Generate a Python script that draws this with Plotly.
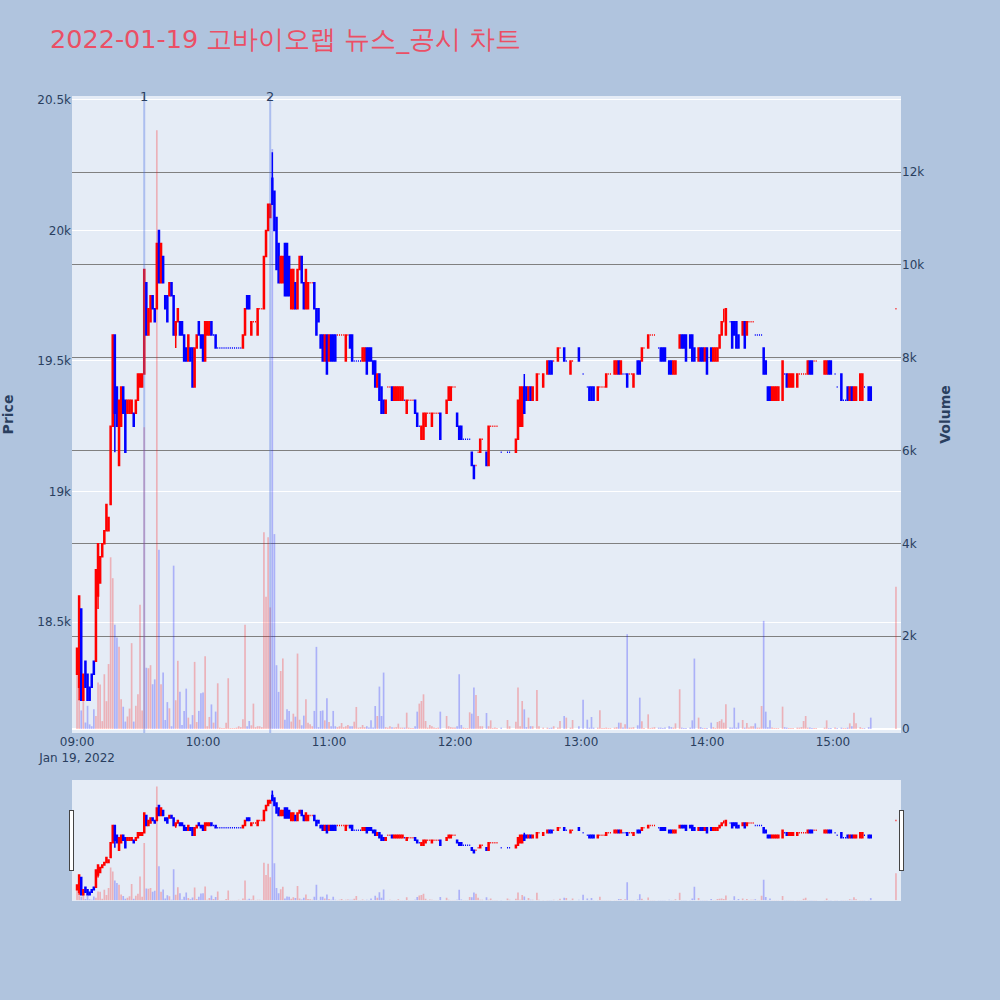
import pandas as pd
import plotly.graph_objects as go

N = None

# ---- minute candles 09:00 .. 15:30 (None = no trade) ----
open_ = [
    18300, 18250, 18550, 18200, 18350, 18300, 18250, 18300, 18350, 18350,
    18600, 18650, 18750, 18800, 18850, 18850, 18950, 19250, 19600, 19400,
    19100, 19250, 19400, 19350, 19300, 19300, 19300, 19300, 19300, 19350,
    19400, 19400, 19450, 19800, 19600, 19650, 19750, 19700, 19700, 20000,
    19800, 19900, 19750, 19750, 19750, 19800, 19750, 19600, 19650, 19650,
    19650, 19600, 19550, 19500, 19550, 19550, 19400, 19550, 19650, 19600,
    19600, 19500, 19600, 19600, 19650, 19600, 19600, 19550, 19550, 19550,
    19550, 19550, 19550, 19550, 19550, 19550, 19550, 19550, 19550, 19550,
    19600, 19750, 19750, 19600, 19650, 19650, 19600, 19700, 19700, 19700,
    19900, 20000, 20050, 20200, 20150, 20050, 19950, 19800, 19800, 19950,
    19950, 19900, 19700, 19700, 19800, 19700, 19850, 19900, 19800, 19700,
    19700, 19800, 19800, 19800, 19700, 19700, 19600, 19600, 19500, 19600,
    19500, 19600, 19600, 19600, 19600, 19600, 19600, 19600, 19500, 19600,
    19600, 19600, 19500, 19500, 19500, 19500, 19500, 19500, 19550, 19550,
    19550, 19500, 19500, 19400, 19450, 19400, 19350, 19300, 19400, 19400,
    19400, 19350, 19350, 19350, 19350, 19350, 19350, 19300, 19350, 19350,
    19350, 19350, 19300, 19250, 19200, 19200, 19250, 19300, 19300, 19250,
    19300, 19300, 19300, 19300, N, N, 19300, 19350, 19350, 19400,
    19400, 19300, 19250, 19250, 19200, 19200, 19200, 19200, 19150, 19100,
    19100, 19150, 19150, 19200, N, 19150, 19100, 19250, 19250, 19250,
    19250, N, 19150, N, N, 19150, 19150, N, N, 19150,
    19200, 19250, 19250, 19400, 19400, 19350, 19400, 19350, N, 19350,
    19450, N, 19400, N, 19450, 19500, 19500, 19500, N, 19500,
    19550, N, 19550, 19500, N, 19450, 19500, N, N, 19550,
    N, 19450, N, 19400, 19400, 19400, 19400, N, 19350, 19400,
    19400, 19400, 19400, 19450, 19450, N, 19450, 19450, 19500, 19450,
    19450, 19450, 19450, 19450, 19450, 19400, N, 19500, 19500, 19500,
    19550, N, 19550, 19600, 19600, 19600, N, 19550, 19550, 19550,
    19550, N, 19500, 19500, 19450, 19450, N, 19550, 19600, 19600,
    19600, N, 19600, 19600, 19550, N, 19500, 19550, 19550, 19500,
    19550, N, 19550, 19500, 19500, 19500, 19550, 19600, 19650, 19600,
    N, 19650, 19650, 19650, 19650, 19600, N, 19600, 19650, 19600,
    19650, 19650, 19650, 19600, 19600, 19600, 19600, 19550, 19500, 19400,
    19400, 19350, 19350, 19350, 19350, N, 19350, 19450, 19450, 19400,
    19400, 19400, N, 19400, 19450, 19450, 19450, 19450, 19450, 19500,
    19500, 19500, 19500, N, N, N, 19450, 19450, 19500, 19500,
    N, 19450, 19400, N, 19450, 19350, 19350, 19400, 19350, 19400,
    19350, 19350, N, 19350, 19350, 19400, N, 19400, 19400, N,
    N, N, N, N, N, N, N, N, N, N,
    19700,
]

high = [
    18400, 18600, 18550, 18300, 18350, 18300, 18250, 18300, 18350, 18700,
    18800, 18750, 18800, 18850, 18950, 18900, 19250, 19600, 19600, 19400,
    19350, 19400, 19400, 19350, 19350, 19350, 19350, 19300, 19350, 19450,
    19450, 19450, 19850, 19800, 19700, 19750, 19750, 19700, 19950, 20000,
    19950, 19900, 19750, 19750, 19800, 19800, 19750, 19650, 19700, 19650,
    19650, 19600, 19550, 19600, 19550, 19550, 19550, 19600, 19650, 19600,
    19600, 19650, 19650, 19650, 19650, 19600, 19600, 19550, 19550, 19550,
    19550, 19550, 19550, 19550, 19550, 19550, 19550, 19550, 19550, 19600,
    19700, 19750, 19750, 19650, 19650, 19650, 19700, 19700, 19700, 19900,
    20000, 20100, 20100, 20300, 20150, 20050, 19950, 19900, 19900, 19950,
    19950, 19900, 19850, 19850, 19800, 19850, 19900, 19900, 19800, 19850,
    19800, 19800, 19800, 19800, 19700, 19700, 19600, 19600, 19600, 19600,
    19600, 19600, 19600, 19600, 19600, 19600, 19600, 19600, 19600, 19600,
    19600, 19600, 19500, 19500, 19500, 19500, 19550, 19550, 19550, 19550,
    19550, 19500, 19500, 19450, 19450, 19400, 19350, 19350, 19400, 19400,
    19400, 19400, 19400, 19400, 19400, 19400, 19350, 19350, 19350, 19350,
    19350, 19350, 19300, 19250, 19250, 19300, 19300, 19300, 19300, 19300,
    19300, 19300, 19300, 19300, N, N, 19350, 19400, 19400, 19400,
    19400, 19300, 19250, 19250, 19200, 19200, 19200, 19200, 19150, 19100,
    19100, 19150, 19200, 19200, N, 19150, 19250, 19250, 19250, 19250,
    19250, N, 19150, N, N, 19150, 19150, N, N, 19200,
    19350, 19400, 19400, 19450, 19400, 19400, 19400, 19400, N, 19450,
    19450, N, 19450, N, 19500, 19500, 19500, 19500, N, 19550,
    19550, N, 19550, 19500, N, 19500, 19500, N, N, 19550,
    N, 19450, N, 19400, 19400, 19400, 19400, N, 19400, 19400,
    19400, 19400, 19450, 19450, 19450, N, 19500, 19500, 19500, 19500,
    19450, 19450, 19450, 19450, 19450, 19450, N, 19500, 19500, 19550,
    19550, N, 19600, 19600, 19600, 19600, N, 19550, 19550, 19550,
    19550, N, 19500, 19500, 19500, 19500, N, 19600, 19600, 19600,
    19600, N, 19600, 19600, 19550, N, 19550, 19550, 19550, 19550,
    19550, N, 19550, 19550, 19550, 19550, 19600, 19650, 19700, 19700,
    N, 19650, 19650, 19650, 19650, 19600, N, 19650, 19650, 19650,
    19650, 19650, 19650, 19600, 19600, 19600, 19600, 19550, 19500, 19400,
    19400, 19400, 19400, 19400, 19400, N, 19500, 19450, 19450, 19450,
    19450, 19450, N, 19450, 19450, 19450, 19450, 19450, 19500, 19500,
    19500, 19500, 19500, N, N, N, 19500, 19500, 19500, 19500,
    N, 19450, 19400, N, 19450, 19350, 19350, 19400, 19400, 19400,
    19400, 19400, N, 19450, 19450, 19400, N, 19400, 19400, N,
    N, N, N, N, N, N, N, N, N, N,
    19700,
]

low = [
    18300, 18200, 18200, 18200, 18250, 18200, 18200, 18250, 18300, 18350,
    18550, 18650, 18750, 18800, 18850, 18850, 18950, 19250, 19150, 19250,
    19100, 19250, 19300, 19150, 19300, 19300, 19300, 19250, 19300, 19350,
    19400, 19400, 19450, 19600, 19600, 19650, 19700, 19650, 19700, 19800,
    19800, 19800, 19700, 19650, 19750, 19750, 19600, 19550, 19650, 19600,
    19600, 19500, 19500, 19500, 19500, 19400, 19400, 19550, 19600, 19550,
    19500, 19500, 19600, 19600, 19600, 19600, 19550, 19550, 19550, 19550,
    19550, 19550, 19550, 19550, 19550, 19550, 19550, 19550, 19550, 19550,
    19600, 19700, 19700, 19600, 19650, 19650, 19600, 19700, 19700, 19700,
    19900, 20000, 20050, 20100, 20000, 19850, 19800, 19800, 19800, 19750,
    19750, 19750, 19700, 19700, 19700, 19700, 19850, 19800, 19700, 19700,
    19700, 19800, 19800, 19700, 19600, 19650, 19550, 19500, 19500, 19450,
    19500, 19500, 19500, 19500, 19600, 19600, 19600, 19600, 19500, 19600,
    19550, 19500, 19500, 19500, 19500, 19500, 19500, 19500, 19450, 19500,
    19500, 19450, 19400, 19400, 19350, 19300, 19300, 19300, 19400, 19400,
    19350, 19350, 19350, 19350, 19350, 19350, 19350, 19300, 19350, 19350,
    19350, 19300, 19250, 19250, 19200, 19200, 19250, 19300, 19300, 19250,
    19300, 19300, 19300, 19200, N, N, 19300, 19350, 19350, 19400,
    19400, 19250, 19200, 19200, 19200, 19200, 19200, 19200, 19100, 19050,
    19100, 19150, 19150, 19200, N, 19100, 19100, 19250, 19250, 19250,
    19250, N, 19150, N, N, 19150, 19150, N, N, 19150,
    19200, 19250, 19250, 19300, 19350, 19350, 19350, 19350, N, 19350,
    19450, N, 19400, N, 19450, 19450, 19450, 19500, N, 19500,
    19550, N, 19500, 19500, N, 19450, 19500, N, N, 19500,
    N, 19450, N, 19400, 19350, 19350, 19350, N, 19350, 19400,
    19400, 19400, 19400, 19450, 19450, N, 19450, 19450, 19450, 19450,
    19450, 19450, 19400, 19450, 19450, 19400, N, 19450, 19450, 19500,
    19550, N, 19550, 19600, 19600, 19600, N, 19550, 19500, 19500,
    19500, N, 19450, 19450, 19450, 19450, N, 19550, 19550, 19550,
    19500, N, 19550, 19500, 19500, N, 19500, 19500, 19500, 19500,
    19450, N, 19500, 19500, 19500, 19500, 19550, 19600, 19650, 19600,
    N, 19650, 19550, 19600, 19550, 19550, N, 19600, 19550, 19600,
    19650, 19650, 19650, 19600, 19600, 19600, 19600, 19450, 19450, 19350,
    19350, 19350, 19350, 19350, 19350, N, 19350, 19450, 19400, 19400,
    19400, 19400, N, 19400, 19450, 19450, 19450, 19450, 19450, 19450,
    19450, 19500, 19500, N, N, N, 19450, 19450, 19450, 19450,
    N, 19450, 19400, N, 19350, 19350, 19350, 19350, 19350, 19350,
    19350, 19350, N, 19350, 19350, 19400, N, 19350, 19350, N,
    N, N, N, N, N, N, N, N, N, N,
    19700,
]

close = [
    18400, 18600, 18200, 18300, 18250, 18200, 18200, 18250, 18300, 18700,
    18800, 18750, 18800, 18850, 18950, 18900, 19250, 19600, 19300, 19250,
    19350, 19400, 19300, 19150, 19350, 19350, 19350, 19250, 19350, 19450,
    19450, 19450, 19850, 19600, 19700, 19750, 19700, 19650, 19950, 19800,
    19950, 19800, 19700, 19650, 19800, 19750, 19600, 19650, 19700, 19600,
    19600, 19500, 19500, 19600, 19500, 19400, 19550, 19600, 19600, 19550,
    19500, 19650, 19650, 19650, 19600, 19600, 19550, 19550, 19550, 19550,
    19550, 19550, 19550, 19550, 19550, 19550, 19550, 19550, 19550, 19600,
    19700, 19700, 19700, 19650, 19650, 19650, 19700, 19700, 19700, 19900,
    20000, 20100, 20100, 20100, 20000, 19850, 19800, 19900, 19900, 19750,
    19750, 19750, 19850, 19850, 19700, 19850, 19900, 19800, 19700, 19850,
    19800, 19800, 19800, 19700, 19600, 19650, 19550, 19500, 19600, 19450,
    19600, 19500, 19500, 19500, 19600, 19600, 19600, 19600, 19600, 19600,
    19550, 19500, 19500, 19500, 19500, 19500, 19550, 19550, 19450, 19500,
    19500, 19450, 19400, 19450, 19350, 19300, 19300, 19350, 19400, 19400,
    19350, 19400, 19400, 19400, 19400, 19400, 19350, 19350, 19350, 19350,
    19350, 19300, 19250, 19250, 19250, 19300, 19300, 19300, 19300, 19300,
    19300, 19300, 19300, 19200, N, N, 19350, 19400, 19400, 19400,
    19400, 19250, 19200, 19200, 19200, 19200, 19200, 19200, 19100, 19050,
    19100, 19150, 19200, 19200, N, 19100, 19250, 19250, 19250, 19250,
    19250, N, 19150, N, N, 19150, 19150, N, N, 19200,
    19350, 19400, 19400, 19300, 19350, 19400, 19350, 19400, N, 19450,
    19450, N, 19450, N, 19500, 19450, 19450, 19500, N, 19550,
    19550, N, 19500, 19500, N, 19500, 19500, N, N, 19500,
    N, 19450, N, 19400, 19350, 19350, 19350, N, 19400, 19400,
    19400, 19400, 19450, 19450, 19450, N, 19500, 19500, 19450, 19500,
    19450, 19450, 19400, 19450, 19450, 19450, N, 19450, 19450, 19550,
    19550, N, 19600, 19600, 19600, 19600, N, 19550, 19500, 19500,
    19500, N, 19450, 19450, 19500, 19500, N, 19600, 19550, 19550,
    19500, N, 19550, 19500, 19500, N, 19550, 19500, 19500, 19550,
    19450, N, 19500, 19550, 19550, 19550, 19600, 19650, 19650, 19700,
    N, 19650, 19550, 19600, 19550, 19550, N, 19650, 19550, 19650,
    19650, 19650, 19650, 19600, 19600, 19600, 19600, 19450, 19450, 19350,
    19350, 19400, 19400, 19400, 19400, N, 19500, 19450, 19400, 19450,
    19450, 19450, N, 19450, 19450, 19450, 19450, 19450, 19500, 19450,
    19450, 19500, 19500, N, N, N, 19500, 19500, 19450, 19450,
    N, 19450, 19400, N, 19350, 19350, 19350, 19350, 19400, 19350,
    19400, 19400, N, 19450, 19450, 19400, N, 19350, 19350, N,
    N, N, N, N, N, N, N, N, N, N,
    19700,
]

volume = [
    1320, 640, 400, 640, 140, 500, 100, 60, 425, 280,
    1000, 960, 170, 1180, 600, 1400, 3700, 3250, 2245, 1970,
    1770, 640, 480, 160, 270, 440, 1850, 160, 500, 750,
    2680, 400, 6500, 1320, 1310, 1375, 965, 1070, 12900, 3860,
    965, 1215, 195, 580, 446, 60, 3520, 620, 1470, 805,
    86, 390, 870, 245, 100, 300, 1446, 150, 390, 770,
    785, 1570, 60, 260, 530, 137, 375, 985, 30, 20,
    20, 137, 1094, 20, 20, 20, 30, 60, 40, 209,
    2245, 60, 173, 80, 547, 40, 60, 60, 40, 4240,
    2850, 4130, 2620, 12500, 4200, 1375, 800, 1250, 1520, 200,
    425, 390, 160, 330, 266, 1626, 200, 80, 288, 640,
    137, 100, 60, 390, 1770, 40, 390, 400, 187, 662,
    150, 60, 390, 60, 40, 60, 130, 40, 60, 86,
    60, 60, 158, 475, 30, 40, 86, 40, 60, 30,
    187, 30, 496, 280, 914, 280, 1216, 40, 30, 60,
    40, 30, 40, 115, 30, 30, 30, 352, 30, 20,
    20, 60, 374, 547, 604, 748, 173, 30, 86, 60,
    30, 20, 30, 374, 0, 0, 280, 60, 40, 30,
    30, 60, 1180, 86, 30, 20, 20, 360, 331, 892,
    734, 280, 60, 60, 0, 345, 60, 187, 20, 30,
    20, 0, 30, 0, 0, 194, 60, 0, 0, 158,
    892, 60, 604, 424, 40, 245, 60, 60, 0, 842,
    60, 0, 30, 0, 30, 20, 30, 60, 0, 30,
    173, 0, 280, 245, 0, 30, 194, 0, 0, 60,
    0, 633, 0, 201, 30, 259, 30, 0, 30, 403,
    20, 20, 30, 20, 20, 0, 30, 40, 137, 137,
    30, 100, 2043, 30, 30, 40, 0, 80, 676, 165,
    20, 0, 316, 20, 30, 40, 0, 30, 30, 20,
    30, 0, 60, 40, 30, 122, 0, 856, 30, 20,
    20, 0, 30, 187, 1518, 0, 245, 40, 20, 20,
    20, 0, 137, 40, 20, 151, 173, 209, 137, 532,
    0, 30, 30, 460, 30, 137, 0, 194, 30, 130,
    30, 60, 60, 122, 30, 30, 496, 2330, 374, 40,
    187, 30, 20, 20, 20, 0, 482, 40, 30, 20,
    20, 20, 0, 30, 30, 40, 173, 280, 30, 30,
    20, 20, 20, 0, 0, 0, 30, 187, 20, 20,
    0, 30, 20, 0, 30, 20, 20, 30, 122, 60,
    352, 122, 0, 40, 20, 20, 0, 40, 245, 0,
    0, 0, 0, 0, 0, 0, 0, 0, 0, 0,
    3065,
]

news_times = ["2022-01-19 09:32", "2022-01-19 10:32"]
news_labels = ["1", "2"]

x_range = ["2022-01-19 08:57:36", "2022-01-19 15:32:24"]
slider_range = ["2022-01-19 08:59:30", "2022-01-19 15:30:30"]
price_range = [18075, 20515]
volume_range = [-86, 13640]

times = pd.date_range("2022-01-19 09:00", periods=len(close), freq="min")

UP = "red"
DOWN = "blue"
UP_VOL = "rgba(255,0,0,0.25)"
DOWN_VOL = "rgba(0,0,255,0.25)"
FONT = "Verdana, 'DejaVu Sans', sans-serif"

vol_colors = []
prev = None
for o, c in zip(open_, close):
    if o is None:
        vol_colors.append(DOWN_VOL)
        continue
    up = c > o or (c == o and (prev is None or c >= prev))
    vol_colors.append(UP_VOL if up else DOWN_VOL)
    prev = c

fig = go.Figure()
fig.add_trace(go.Bar(
    x=times, y=volume, yaxis="y2", name="Volume",
    marker=dict(color=vol_colors, line=dict(width=0)),
    showlegend=False,
))
fig.add_trace(go.Candlestick(
    x=times, open=open_, high=high, low=low, close=close, name="Price",
    increasing=dict(line=dict(color=UP, width=1.5), fillcolor=UP),
    decreasing=dict(line=dict(color=DOWN, width=1.5), fillcolor=DOWN),
    showlegend=False,
))

shapes = []
annotations = []
for t, lab in zip(news_times, news_labels):
    shapes.append(dict(type="line", xref="x", yref="paper", x0=t, x1=t, y0=0, y1=1,
                       line=dict(color="rgba(65,105,225,0.35)", width=2)))
    annotations.append(dict(x=t, xref="x", y=1, yref="paper", text=lab, showarrow=False,
                            yanchor="middle", font=dict(size=13, color="#2a3f5f")))

fig.update_layout(
    width=1000, height=1000,
    font=dict(family=FONT),
    paper_bgcolor="#B0C4DE",
    plot_bgcolor="#E5ECF6",
    margin=dict(l=72, r=99, t=96, b=100),
    title=dict(text="2022-01-19 고바이오랩 뉴스_공시 차트", x=0.05, xanchor="left",
               y=0.961, yanchor="middle",
               font=dict(size=25.5, color="#EB4F65", family=FONT)),
    showlegend=False,
    shapes=shapes,
    annotations=annotations,
    bargap=0.2,
    xaxis=dict(
        type="date", showgrid=False, range=x_range, automargin=False,
        rangeslider=dict(visible=True, bgcolor="#E5ECF6", thickness=0.15,
                         autorange=False, range=slider_range),
    ),
    yaxis=dict(
        title=dict(text="<b>Price</b>", standoff=22), range=price_range,
        gridcolor="white", side="left", automargin=False,
    ),
    yaxis2=dict(
        title=dict(text="<b>Volume</b>", standoff=16), overlaying="y", side="right",
        showgrid=True, gridcolor="gray", zeroline=True, zerolinecolor="white",
        zerolinewidth=2, range=volume_range, automargin=False,
    ),
)

fig.write_html("out.html", config={"displayModeBar": False},
               post_script="document.body.style.margin='0';")
